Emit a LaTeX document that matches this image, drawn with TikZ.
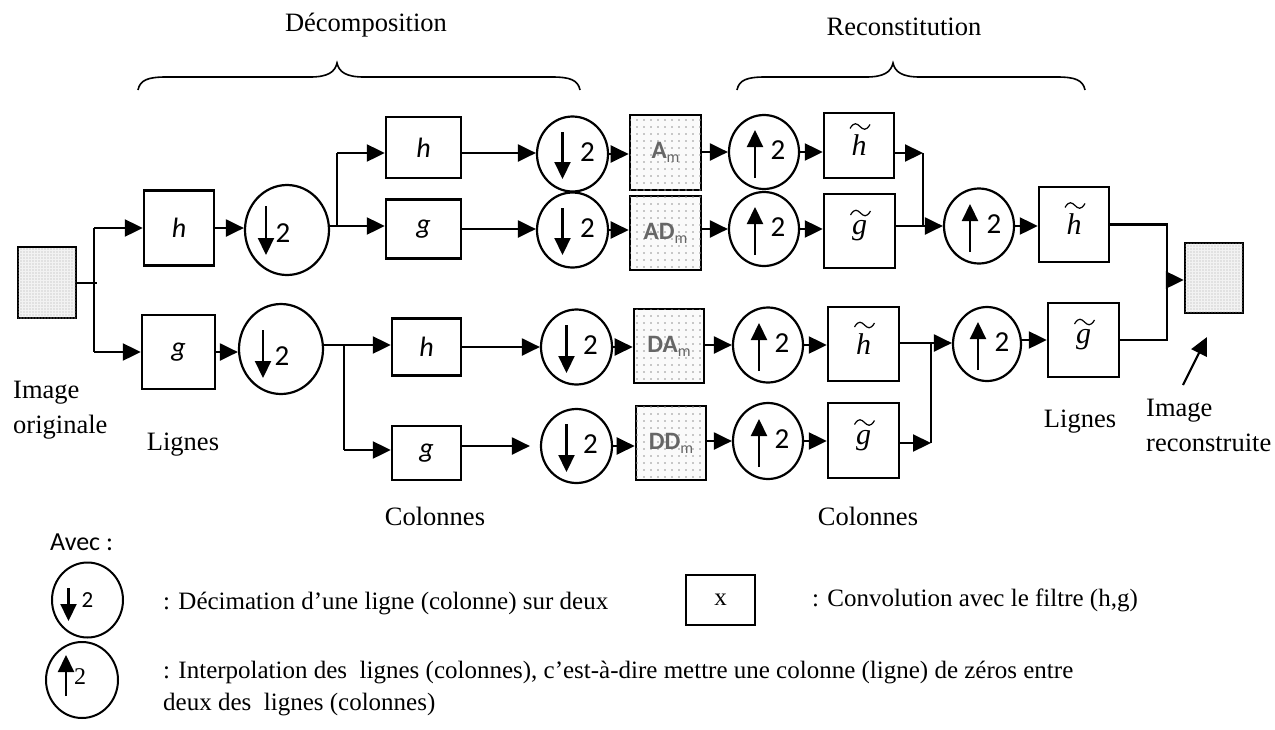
\documentclass[tikz,border=0pt]{standalone}
\usepackage{fontspec}
\setmainfont{Liberation Serif}
\newfontfamily\carl{Carlito}
\usetikzlibrary{shapes.geometric,arrows.meta,patterns.meta,calc}

% arrow and "2" inside a sampling circle
\newcommand\sampdown[6]{%
  \draw[inarrow] ($(#1)+(#2,#3)$) -- ($(#1)+(#2,#4)$);
  \node[two] at ($(#1)+(#5,#6)$) {2};}
\newcommand\sampup[6]{%
  \draw[inarrow] ($(#1)+(#2,#4)$) -- ($(#1)+(#2,#3)$);
  \node[two] at ($(#1)+(#5,#6)$) {2};}
% wide tilde above a synthesis filter letter
\newcommand\tildemark[2]{%
  \draw[line width=1.2pt, shift={($(#1)+(1,#2)$)}]
    (-10,2) .. controls (-6,-5) and (-3,-3) .. (0,0) .. controls (3,3) and (6,5) .. (10,-2);}
\newcommand\coefm[1]{#1\raisebox{-4pt}{\fontsize{16}{16}\selectfont\mdseries m}}

\tikzset{
  wire/.style={line width=2.2pt},
  conn/.style={line width=2.2pt, -{Triangle[length=18pt,width=17pt]}},
  inarrow/.style={line width=2.2pt, -{Triangle[length=17pt,width=16pt]}},
  filt/.style={draw, line width=2.4pt, inner sep=0pt, font=\carl\itshape\fontsize{28}{30}\selectfont},
  tfilt/.style={draw, line width=2.4pt, inner sep=0pt, font=\itshape\fontsize{30}{30}\selectfont},
  samp/.style={ellipse, draw, line width=2.2pt, inner sep=0pt},
  two/.style={font=\carl\fontsize{29}{30}\selectfont, inner sep=0pt},
  img/.style={draw, line width=2.4pt, fill=gray!10,
    postaction={pattern={Dots[distance=3pt,radius=0.6pt]}, pattern color=gray!65}},
  coef/.style={draw, line width=2.6pt, fill=gray!4,
    postaction={pattern={Dots[distance=7pt,radius=0.8pt]}, pattern color=gray!85},
    font=\carl\bfseries\fontsize{25}{26}\selectfont, text=black!60, inner sep=0pt},
  lbl/.style={font=\fontsize{26.5}{35}\selectfont, inner sep=0pt},
  leg/.style={font=\fontsize{25}{30}\selectfont, inner sep=0pt, anchor=west},
}

\begin{document}
\begin{tikzpicture}[x=1pt,y=-1pt]
\useasboundingbox (0,0) rectangle (1275,729);

% ---- braces and titles
\node[lbl] (tdec) at (366,25) {Décomposition};
\node[lbl] (trec) at (904,27) {Reconstitution};
\draw[line width=1.6pt] (138,90) .. controls (140,80) and (148,77) .. (166,77) -- (310,77)
  .. controls (328,77) and (335,72) .. (337,63) .. controls (339,72) and (346,77) .. (364,77)
  -- (552,77) .. controls (570,77) and (578,80) .. (580,90);
\draw[line width=1.6pt] (737,90) .. controls (739,80) and (747,77) .. (765,77) -- (866,77)
  .. controls (884,77) and (891,72) .. (893,63) .. controls (895,72) and (902,77) .. (920,77)
  -- (1057,77) .. controls (1075,77) and (1083,80) .. (1085,90);

% ---- input and output images
\node[img, minimum width=58pt, minimum height=71pt] (orig) at (47,282.5) {};
\node[img, minimum width=58pt, minimum height=70pt] (recon) at (1214,278) {};

% ---- first stage (lines)
\node[filt, minimum width=70pt, minimum height=75pt] (h1) at (179,228) {h};
\node[filt, minimum width=73pt, minimum height=74pt] (g1) at (178.5,352) {g};
\node[samp, minimum width=84pt, minimum height=90pt] (d1) at (287,230) {};
\node[samp, minimum width=84pt, minimum height=90pt] (d2) at (281,349) {};

% ---- second stage (columns)
\node[filt, minimum width=75pt, minimum height=61pt] (h2) at (423.5,147.5) {h};
\node[filt, minimum width=75pt, minimum height=59pt] (g2) at (423.5,229) {g};
\node[filt, minimum width=69pt, minimum height=57pt] (h3) at (426.5,347) {h};
\node[filt, minimum width=69pt, minimum height=54pt] (g3) at (426.5,453) {g};

\node[samp, minimum width=71pt, minimum height=75pt] (dA)  at (572.5,154) {};
\node[samp, minimum width=71pt, minimum height=75pt] (dAD) at (572.5,230) {};
\node[samp, minimum width=71pt, minimum height=75pt] (dDA) at (576.5,347) {};
\node[samp, minimum width=71pt, minimum height=74pt] (dDD) at (576.5,446) {};

% ---- sub-band coefficients
\node[coef, minimum width=71pt, minimum height=75pt] (Am)  at (665.5,152.5) {\coefm{A}};
\node[coef, minimum width=71pt, minimum height=74pt] (ADm) at (665.5,233) {\coefm{AD}};
\node[coef, minimum width=70pt, minimum height=74pt] (DAm) at (669,346) {\coefm{DA}};
\node[coef, minimum width=70pt, minimum height=74pt] (DDm) at (671,443) {\coefm{DD}};

% ---- reconstruction, columns
\node[samp, minimum width=70pt, minimum height=74pt] (uA)  at (764,152) {};
\node[samp, minimum width=70pt, minimum height=74pt] (uAD) at (764,229) {};
\node[samp, minimum width=70pt, minimum height=75pt] (uDA) at (768,345) {};
\node[samp, minimum width=70pt, minimum height=76pt] (uDD) at (768,441) {};

\node[tfilt, minimum width=70pt, minimum height=65pt] (th1) at (859,145.5) {h};
\node[tfilt, minimum width=71pt, minimum height=74pt] (tg1) at (859.5,231) {g};
\node[tfilt, minimum width=71pt, minimum height=74pt] (th2) at (863.5,344) {h};
\node[tfilt, minimum width=71pt, minimum height=75pt] (tg2) at (863.5,440.5) {g};

% ---- reconstruction, lines
\node[samp, minimum width=70pt, minimum height=75pt] (uL1) at (979,226) {};
\node[samp, minimum width=68pt, minimum height=74pt] (uL2) at (987,344) {};
\node[tfilt, minimum width=70pt, minimum height=75pt] (thL) at (1074,224.5) {h};
\node[tfilt, minimum width=71pt, minimum height=74pt] (tgL) at (1083.5,340) {g};

\tildemark{th1}{-19}
\tildemark{th2}{-19}
\tildemark{thL}{-19}
\tildemark{tg1}{-18}
\tildemark{tg2}{-18}
\tildemark{tgL}{-18}

% ---- contents of the sampling circles
\sampdown{d1}{-21}{-24}{25}{-4}{3}
\sampdown{d2}{-18}{-19}{29}{1}{7}
\sampdown{dA}{-10}{-22}{25}{15}{-2}
\sampdown{dAD}{-10}{-22}{25}{15}{-2}
\sampdown{dDA}{-10}{-22}{26}{14}{-2}
\sampdown{dDD}{-10}{-22}{26}{14}{-2}
\sampup{uA}{-9}{-22}{26}{14}{-2}
\sampup{uAD}{-9}{-22}{26}{14}{-2}
\sampup{uDA}{-9}{-22}{26}{14}{-2}
\sampup{uDD}{-9}{-22}{26}{14}{-2}
\sampup{uL1}{-9}{-22}{26}{15}{-2}
\sampup{uL2}{-9}{-22}{26}{15}{-2}

% ---- connectors, decomposition
\coordinate (s1e) at (97,283);
\coordinate (s1t) at (94,228);
\coordinate (s1b) at (94,352);
\draw[wire] (orig.east |- s1e) -- (s1e);
\draw[wire] (s1t) -- (s1b);
\draw[conn] (s1t) -- (h1.west |- s1t);
\draw[conn] (s1b) -- (g1.west |- s1b);
\draw[conn] (h1.east) -- (h1.east -| d1.west);
\draw[conn] (g1.east) -- (g1.east -| d2.west);

\coordinate (s2) at (337,226);
\coordinate (s2t) at (337,153);
\draw[wire] (d1.east |- s2) -- (s2) -- (s2t);
\draw[conn] (s2t) -- (h2.west |- s2t);
\draw[conn] (s2) -- (g2.west |- s2);

\coordinate (s3) at (344,345);
\coordinate (s3b) at (344,450);
\draw[wire] (d2.east |- s3) -- (s3) -- (s3b);
\draw[conn] (s3) -- (h3.west |- s3);
\draw[conn] (s3b) -- (g3.west |- s3b);

\draw[conn] (h2.east |- s2t) -- (dA.west |- s2t);
\draw[conn] (g2.east) -- (g2.east -| dAD.west);
\draw[conn] (h3.east) -- (h3.east -| dDA.west);
\draw[conn, shorten >=10pt] (dDD.west -| g3.east) -- (dDD.west);

\draw[conn] (dA.east) -- (dA.east -| Am.west);
\draw[conn] (dAD.east) -- (dAD.east -| ADm.west);
\draw[conn] (dDA.east) -- (dDA.east -| DAm.west);
\draw[conn] (dDD.east) -- (dDD.east -| DDm.west);

% ---- connectors, reconstruction
\draw[conn] (uA.west -| Am.east) -- (uA.west);
\draw[conn] (uAD.west -| ADm.east) -- (uAD.west);
\draw[conn] (uDA.west -| DAm.east) -- (uDA.west);
\draw[conn] (uDD.west -| DDm.east) -- (uDD.west);

\draw[conn] (uA.east) -- (uA.east -| th1.west);
\draw[conn] (uAD.east) -- (uAD.east -| tg1.west);
\draw[conn] (uDA.east) -- (uDA.east -| th2.west);
\draw[conn] (uDD.east) -- (uDD.east -| tg2.west);

\coordinate (j1t) at (923,153);
\coordinate (j1b) at (923,226);
\draw[conn] (th1.east |- j1t) -- (j1t);
\draw[wire] (j1t) -- (j1b);
\draw[conn] (tg1.east |- j1b) -- (uL1.west |- j1b);

\coordinate (j2t) at (931,343);
\coordinate (j2b) at (931,443);
\draw[conn] (th2.east |- j2t) -- (uL2.west |- j2t);
\draw[wire] (j2t) -- (j2b);
\draw[conn] (tg2.east |- j2b) -- (j2b);

\draw[conn] (uL1.east) -- (uL1.east -| thL.west);
\draw[conn] (uL2.east |- tgL.west) -- (tgL.west);

\coordinate (j3t) at (1167,224.5);
\coordinate (j3b) at (1167,340);
\coordinate (j3m) at (1167,280);
\draw[wire] (thL.east) -- (j3t) -- (j3b) -- (tgL.east);
\draw[conn] (j3m) -- (recon.west |- j3m);

\coordinate (ptail) at (1183,385);
\coordinate (ptip) at (1207,337);
\draw[conn] (ptail) -- (ptip);

% ---- stage labels
\node[lbl, align=left, anchor=west] (lorig) at (13,410) {Image\\originale};
\node[lbl] (lrow1) at (183,445) {Lignes};
\node[lbl] (lcol1) at (435,516) {Colonnes};
\node[lbl] (lcol2) at (868,516) {Colonnes};
\node[lbl] (lrow2) at (1080,422) {Lignes};
\node[lbl, align=left, anchor=west] (lrec) at (1146,425) {Image\\reconstruite};

% ---- legend
\node[font=\carl\fontsize{26}{28}\selectfont, anchor=west, inner sep=0pt] (avec) at (50,542) {Avec :};
\node[samp, line width=2pt, minimum width=71pt, minimum height=75pt] (ldn) at (87.5,600) {};
\draw[inarrow] ($(ldn)+(-19,-12)$) -- ($(ldn)+(-19,21)$);
\node[two, font=\carl\fontsize{23}{26}\selectfont] at ($(ldn)+(0,0)$) {2};
\node[samp, line width=2pt, minimum width=72pt, minimum height=76pt] (lup) at (82,680) {};
\draw[inarrow] ($(lup)+(-16,16)$) -- ($(lup)+(-16,-25)$);
\node[two, font=\fontsize{24}{26}\selectfont] at ($(lup)+(-2,-3)$) {2};
\node[leg] (tdn) at (163,603) {: Décimation d’une ligne (colonne) sur deux};
\node[draw, line width=2pt, minimum width=69pt, minimum height=50pt, inner sep=0pt,
      font=\fontsize{25}{30}\selectfont] (lx) at (720.5,600) {x};
\node[leg] (tx) at (812,600) {: Convolution avec le filtre (h,g)};
\node[leg] (tup1) at (163,672) {: Interpolation des~ lignes (colonnes), c’est-à-dire mettre une colonne (ligne) de zéros entre};
\node[leg] (tup2) at (163,705) {deux des~ lignes (colonnes)};
\end{tikzpicture}
\end{document}
